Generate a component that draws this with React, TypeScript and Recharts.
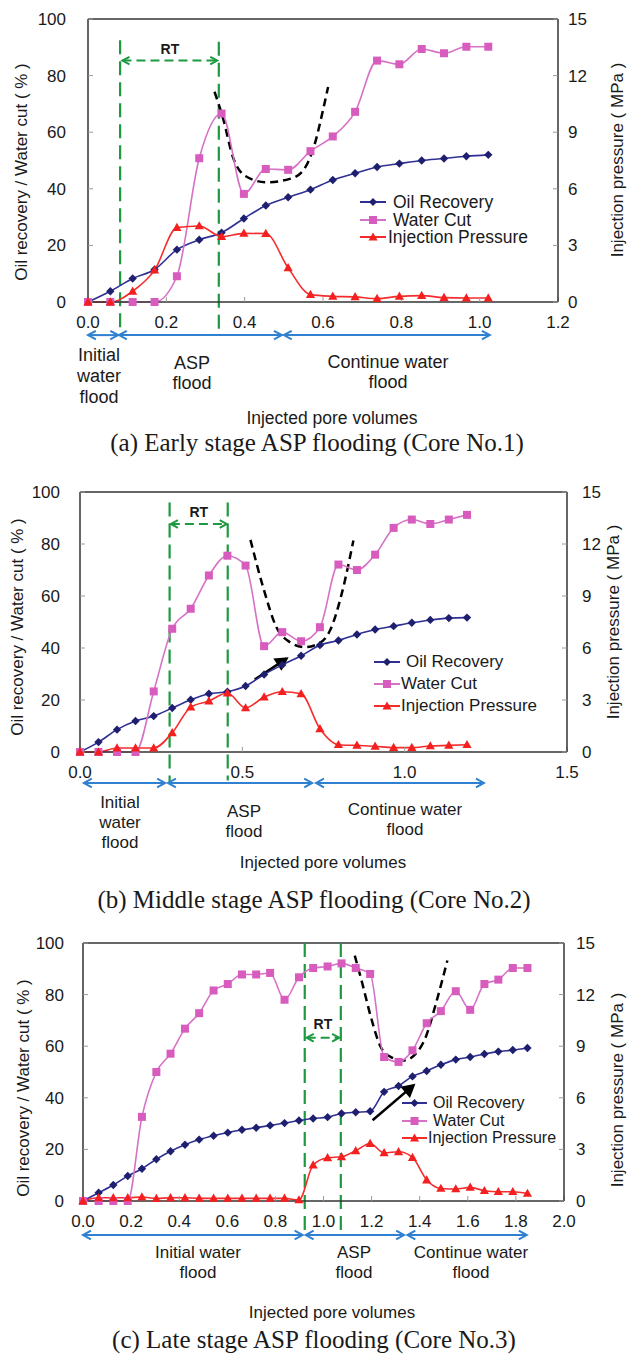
import React from 'react';
import { ComposedChart, Line, XAxis, YAxis, ReferenceLine } from 'recharts';

const SANS = '"Liberation Sans", Arial, sans-serif';
const SERIF = '"Liberation Serif", "Times New Roman", serif';

const OIL_LINE = '#2f2f94';
const OIL_DOT = '#1f1f70';
const WATER_LINE = '#d672c6';
const WATER_DOT = '#d85cbe';
const PRESS_LINE = '#f42c2c';
const PRESS_DOT = '#f41f1f';
const GREEN = '#1d9a40';
const BLUE = '#2f80d0';
const FRAME = '#333';
const TEXT = '#1a1a1a';

// (a) Early stage ASP flooding (Core No.1)
const pvA = [0, 0.057, 0.114, 0.17, 0.227, 0.284, 0.341, 0.398, 0.454, 0.511, 0.568, 0.625, 0.682, 0.738, 0.795, 0.852, 0.909, 0.966, 1.022];
const oilA = [0, 3.8, 8.3, 11.5, 18.5, 22, 24.5, 29.5, 34.1, 37, 39.7, 43.1, 45.5, 47.7, 48.9, 50, 50.7, 51.5, 52];
const waterA = [0, 0, 0, 0, 9.1, 50.8, 66.6, 38.2, 47, 46.7, 53.3, 58.5, 67.2, 85.3, 84, 89.4, 87.9, 90.2, 90.2];
const pressA = [0, 0, 0.57, 1.69, 3.95, 4.03, 3.47, 3.64, 3.63, 1.81, 0.39, 0.3, 0.27, 0.18, 0.3, 0.34, 0.23, 0.21, 0.21];
const trendPvA = [0.323, 0.345, 0.37, 0.4, 0.455, 0.515, 0.549, 0.579, 0.6, 0.613];
const trendA = [74.3, 64.8, 51.2, 44.7, 42.3, 43.5, 46.4, 55.9, 67.8, 76];
const xTicksA = [0, 0.2, 0.4, 0.6, 0.8, 1.0, 1.2];

// (b) Middle stage ASP flooding (Core No.2)
const pvB = [0, 0.057, 0.114, 0.171, 0.227, 0.284, 0.341, 0.397, 0.454, 0.51, 0.567, 0.623, 0.681, 0.739, 0.796, 0.853, 0.909, 0.966, 1.022, 1.079, 1.136, 1.192];
const oilB = [0, 3.8, 8.6, 11.9, 13.8, 16.9, 20.1, 22.4, 23.2, 25.4, 29.8, 33.5, 37, 41.1, 42.9, 45.2, 47.1, 48.4, 49.7, 50.8, 51.5, 51.7];
const waterB = [0, 0, 0, 0, 23.3, 47.4, 55.1, 67.9, 75.5, 71.7, 40.7, 46.1, 42.6, 48, 72.1, 70, 75.9, 86.2, 89.4, 87.7, 89.4, 91.2];
const pressB = [0, 0, 0.23, 0.23, 0.23, 1.11, 2.59, 2.94, 3.4, 2.54, 3.17, 3.48, 3.36, 1.34, 0.42, 0.38, 0.33, 0.25, 0.25, 0.35, 0.38, 0.42];
const trendPvB = [0.525, 0.564, 0.605, 0.646, 0.692, 0.734, 0.77, 0.806, 0.842];
const trendB = [81.6, 63.4, 48, 42.3, 40.3, 41.6, 46.7, 60.8, 81.3];
const xTicksB = [0, 0.5, 1.0, 1.5];

// (c) Late stage ASP flooding (Core No.3)
const pvC = [0, 0.065, 0.126, 0.186, 0.245, 0.305, 0.364, 0.424, 0.483, 0.543, 0.602, 0.661, 0.72, 0.778, 0.838, 0.898, 0.957, 1.017, 1.075, 1.134, 1.194, 1.252, 1.312, 1.37, 1.429, 1.488, 1.55, 1.61, 1.669, 1.727, 1.787, 1.848];
const oilC = [0, 3.2, 6.2, 9.7, 12.5, 16.2, 19.3, 21.8, 23.8, 25.3, 26.5, 27.6, 28.4, 29.3, 30.2, 31.2, 32, 32.5, 33.9, 34.4, 34.8, 42.3, 44.6, 48.3, 50.4, 52.8, 54.8, 55.8, 57, 57.9, 58.5, 59.3];
const waterC = [0, 0, 0, 0, 32.6, 50, 57.1, 66.8, 72.8, 81.6, 84.1, 87.8, 87.8, 88.4, 78, 86.7, 90.3, 90.9, 92.1, 90.3, 88, 55.8, 53.9, 58.4, 68.9, 73.6, 81.3, 74.1, 84.1, 85.8, 90.3, 90.3];
const pressC = [0, 0.19, 0.19, 0.19, 0.23, 0.14, 0.19, 0.19, 0.15, 0.15, 0.15, 0.15, 0.15, 0.15, 0.15, 0.06, 2.09, 2.51, 2.57, 2.92, 3.34, 2.8, 2.86, 2.53, 1.22, 0.73, 0.7, 0.79, 0.6, 0.54, 0.54, 0.44];
const trendPvC = [1.13, 1.162, 1.197, 1.238, 1.28, 1.335, 1.384, 1.425, 1.467, 1.515];
const trendC = [95.1, 84.1, 71.3, 59.7, 55.8, 54.5, 57.1, 63.5, 76.4, 93.2];
const xTicksC = [0, 0.2, 0.4, 0.6, 0.8, 1.0, 1.2, 1.4, 1.6, 1.8, 2.0];

const pctTicks = [0, 20, 40, 60, 80, 100];
const mpaTicks = [0, 3, 6, 9, 12, 15];

const diamondDot = (p: any) => {
  const { cx, cy, index } = p;
  if (cx == null || cy == null) return <g key={index} />;
  const r = 4.2;
  return <path key={index} d={`M${cx},${cy - r}L${cx + r},${cy}L${cx},${cy + r}L${cx - r},${cy}Z`} fill={OIL_DOT} />;
};
const squareDot = (p: any) => {
  const { cx, cy, index } = p;
  if (cx == null || cy == null) return <g key={index} />;
  return <rect key={index} x={cx - 4} y={cy - 4} width={8} height={8} fill={WATER_DOT} />;
};
const triangleDot = (p: any) => {
  const { cx, cy, index } = p;
  if (cx == null || cy == null) return <g key={index} />;
  return <path key={index} d={`M${cx},${cy - 4.8}L${cx + 4.6},${cy + 3.4}L${cx - 4.6},${cy + 3.4}Z`} fill={PRESS_DOT} />;
};

type ArrowOpts = { color: string; width: number; dash?: string; both?: boolean; filled?: boolean; size?: number; label?: string; labelDy?: number };

const arrowShape = (o: ArrowOpts) => (p: any) => {
  const { x1, y1, x2, y2 } = p;
  const a = Math.atan2(y2 - y1, x2 - x1);
  const s = o.size ?? 8;
  const head = (x: number, y: number, ang: number) => {
    const ax = x - s * Math.cos(ang - 0.5);
    const ay = y - s * Math.sin(ang - 0.5);
    const bx = x - s * Math.cos(ang + 0.5);
    const by = y - s * Math.sin(ang + 0.5);
    return `M${ax},${ay}L${x},${y}L${bx},${by}${o.filled ? 'Z' : ''}`;
  };
  return (
    <g>
      <line x1={x1} y1={y1} x2={x2} y2={y2} stroke={o.color} strokeWidth={o.width} strokeDasharray={o.dash} />
      <path d={head(x2, y2, a)} stroke={o.color} strokeWidth={o.width} fill={o.filled ? o.color : 'none'} />
      {o.both && <path d={head(x1, y1, a + Math.PI)} stroke={o.color} strokeWidth={o.width} fill="none" />}
      {o.label && (
        <text x={(x1 + x2) / 2} y={y1 - (o.labelDy ?? 7)} textAnchor="middle" fontSize={14} fontWeight="bold" fill={TEXT} fontFamily={SANS}>
          {o.label}
        </text>
      )}
    </g>
  );
};

const blueArrow = arrowShape({ color: BLUE, width: 2, both: true, size: 9 });
const blackArrow = arrowShape({ color: '#000', width: 2.5, filled: true, size: 11 });

interface PanelProps {
  top: number;
  height: number;
  margin: { top: number; right: number; bottom: number; left: number };
  xMax: number;
  xTicks: number[];
  pv: number[];
  oil: number[];
  water: number[];
  press: number[];
  trendPv: number[];
  trend: number[];
  green: { x: number; y1: number; y2: number }[];
  rt: { x1: number; x2: number; y: number; dy: number };
  blueY: number;
  blue: [number, number][];
  black?: [number, number, number, number];
  leftMargin: number;
  rightMargin: number;
  bottomMargin: number;
}

function Panel(p: PanelProps) {
  const data = p.pv.map((x, i) => ({ pv: x, oil: p.oil[i], water: p.water[i], press: p.press[i] }));
  const trendData = p.trendPv.map((x, i) => ({ pv: x, u: p.trend[i] }));
  return (
    <div style={{ position: 'absolute', left: 0, top: p.top }}>
      <ComposedChart width={628} height={p.height} data={data} margin={p.margin} style={{ fontFamily: SANS }}>
        <XAxis
          dataKey="pv"
          type="number"
          domain={[0, p.xMax]}
          ticks={p.xTicks}
          tickFormatter={(v: number) => v.toFixed(1)}
          height={30}
          axisLine={{ stroke: FRAME, strokeWidth: 1.5 }}
          tickLine={{ stroke: '#999' }}
          tickSize={-5}
          tickMargin={p.bottomMargin}
          tick={{ fontSize: 17, fill: TEXT }}
        />
        <YAxis
          yAxisId="left"
          domain={[0, 100]}
          ticks={pctTicks}
          width={60}
          axisLine={{ stroke: FRAME, strokeWidth: 1.5 }}
          tickLine={{ stroke: '#999' }}
          tickSize={-5}
          tickMargin={p.leftMargin}
          tick={{ fontSize: 17, fill: TEXT }}
        />
        <YAxis
          yAxisId="right"
          orientation="right"
          domain={[0, 15]}
          ticks={mpaTicks}
          width={40}
          axisLine={{ stroke: FRAME, strokeWidth: 1.5 }}
          tickLine={{ stroke: '#999' }}
          tickSize={-5}
          tickMargin={p.rightMargin}
          tick={{ fontSize: 17, fill: TEXT }}
        />
        <ReferenceLine yAxisId="left" y={100} stroke={FRAME} strokeWidth={1.5} />
        {p.green.map((g, i) => (
          <ReferenceLine
            key={'g' + i}
            yAxisId="left"
            segment={[{ x: g.x, y: g.y1 }, { x: g.x, y: g.y2 }]}
            ifOverflow="visible"
            stroke={GREEN}
            strokeWidth={2.2}
            strokeDasharray="14 7"
          />
        ))}
        <ReferenceLine
          yAxisId="left"
          segment={[{ x: p.rt.x1, y: p.rt.y }, { x: p.rt.x2, y: p.rt.y }]}
          ifOverflow="visible"
          shape={arrowShape({ color: GREEN, width: 2, dash: '9 5', both: true, size: 8, label: 'RT', labelDy: p.rt.dy })}
        />
        {p.blue.map((b, i) => (
          <ReferenceLine
            key={'b' + i}
            yAxisId="left"
            segment={[{ x: b[0], y: p.blueY }, { x: b[1], y: p.blueY }]}
            ifOverflow="visible"
            shape={blueArrow}
          />
        ))}
        {p.black && (
          <ReferenceLine
            yAxisId="left"
            segment={[{ x: p.black[0], y: p.black[1] }, { x: p.black[2], y: p.black[3] }]}
            ifOverflow="visible"
            shape={blackArrow}
          />
        )}
        <Line
          yAxisId="left"
          data={trendData}
          dataKey="u"
          type="monotone"
          stroke="#000"
          strokeWidth={2.5}
          strokeDasharray="8 5"
          dot={false}
          isAnimationActive={false}
        />
        <Line yAxisId="left" dataKey="oil" type="monotone" stroke={OIL_LINE} strokeWidth={1.6} dot={diamondDot} isAnimationActive={false} />
        <Line yAxisId="left" dataKey="water" type="monotone" stroke={WATER_LINE} strokeWidth={1.6} dot={squareDot} isAnimationActive={false} />
        <Line yAxisId="right" dataKey="press" type="monotone" stroke={PRESS_LINE} strokeWidth={1.6} dot={triangleDot} isAnimationActive={false} />
      </ComposedChart>
    </div>
  );
}

function Txt(props: { x: number; y: number; text: string; size?: number; rotate?: number; serif?: boolean; lh?: number }) {
  const rot = props.rotate ? ` rotate(${props.rotate}deg)` : '';
  return (
    <div
      style={{
        position: 'absolute',
        left: props.x,
        top: props.y,
        transform: `translate(-50%, -50%)${rot}`,
        whiteSpace: 'pre',
        textAlign: 'center',
        fontFamily: props.serif ? SERIF : SANS,
        fontSize: props.size ?? 17,
        lineHeight: `${props.lh ?? 20}px`,
        color: TEXT,
      }}
    >
      {props.text}
    </div>
  );
}

const legendRows = [
  { name: 'Oil Recovery', color: OIL_LINE, kind: 'diamond' },
  { name: 'Water Cut', color: WATER_LINE, kind: 'square' },
  { name: 'Injection Pressure', color: PRESS_LINE, kind: 'triangle' },
];

function LegendIcon({ kind, color, w }: { kind: string; color: string; w: number }) {
  const c = w / 2;
  return (
    <svg width={w} height={12} style={{ display: 'block' }}>
      <line x1={0} y1={6} x2={w} y2={6} stroke={color} strokeWidth={2} />
      {kind === 'diamond' && <path d={`M${c},2L${c + 4},6L${c},10L${c - 4},6Z`} fill={OIL_DOT} />}
      {kind === 'square' && <rect x={c - 4} y={2} width={8} height={8} fill={WATER_DOT} />}
      {kind === 'triangle' && <path d={`M${c},1.5L${c + 4.5},9.5L${c - 4.5},9.5Z`} fill={PRESS_DOT} />}
    </svg>
  );
}

function LegendBox(props: { iconX: number; iconW: number; textX: number[]; rowsY: number[]; size: number }) {
  return (
    <>
      {legendRows.map((r, i) => (
        <React.Fragment key={r.name}>
          <div style={{ position: 'absolute', left: props.iconX, top: props.rowsY[i] - 6 }}>
            <LegendIcon kind={r.kind} color={r.color} w={props.iconW} />
          </div>
          <div
            style={{
              position: 'absolute',
              left: props.textX[i],
              top: props.rowsY[i],
              transform: 'translateY(-50%)',
              fontFamily: SANS,
              fontSize: props.size,
              lineHeight: '20px',
              whiteSpace: 'pre',
              color: TEXT,
            }}
          >
            {r.name}
          </div>
        </React.Fragment>
      ))}
    </>
  );
}

const LEFT_TITLE = 'Oil recovery / Water cut ( % )';
const RIGHT_TITLE = 'Injection pressure ( MPa )';

export default function App() {
  return (
    <div style={{ position: 'absolute', left: 0, top: 0, width: 628, height: 1356, background: '#fff', overflow: 'hidden' }}>
      {/* (a) */}
      <Panel
        top={0}
        height={350}
        margin={{ top: 19, right: 30, bottom: 18, left: 28 }}
        xMax={1.2}
        xTicks={xTicksA}
        pv={pvA}
        oil={oilA}
        water={waterA}
        press={pressA}
        trendPv={trendPvA}
        trend={trendA}
        green={[
          { x: 0.082, y1: 92.5, y2: -11.7 },
          { x: 0.334, y1: 92, y2: -11.7 },
        ]}
        rt={{ x1: 0.088, x2: 0.33, y: 85.3, dy: 7 }}
        blueY={-11.7}
        blue={[
          [0, 0.077],
          [0.079, 0.495],
          [0.5, 1.026],
        ]}
        leftMargin={27}
        rightMargin={15}
        bottomMargin={19}
      />
      <LegendBox iconX={360} iconW={26} textX={[393, 393, 388]} rowsY={[202, 219.5, 237]} size={17.5} />
      <Txt x={22} y={172} text={LEFT_TITLE} rotate={-90} />
      <Txt x={618} y={160} text={RIGHT_TITLE} rotate={-90} />
      <Txt x={99} y={376} text={'Initial\nwater\nflood'} lh={21} size={18} />
      <Txt x={192} y={373} text={'ASP\nflood'} size={18} />
      <Txt x={388} y={372} text={'Continue water\nflood'} size={18} />
      <Txt x={332} y={418} text="Injected pore volumes" size={17.5} />
      <Txt x={317} y={443} text="(a) Early stage ASP flooding (Core No.1)" serif size={25} />

      {/* (b) */}
      <Panel
        top={460}
        height={340}
        margin={{ top: 32, right: 21, bottom: 18, left: 20 }}
        xMax={1.5}
        xTicks={xTicksB}
        pv={pvB}
        oil={oilB}
        water={waterB}
        press={pressB}
        trendPv={trendPvB}
        trend={trendB}
        green={[
          { x: 0.276, y1: 96, y2: -12.3 },
          { x: 0.455, y1: 96, y2: -11 },
        ]}
        rt={{ x1: 0.28, x2: 0.452, y: 87.7, dy: 7 }}
        blueY={-11.9}
        blue={[
          [0.012, 0.262],
          [0.271, 0.715],
          [0.727, 1.244],
        ]}
        black={[0.538, 27.9, 0.636, 35.9]}
        leftMargin={25}
        rightMargin={20}
        bottomMargin={19}
      />
      <LegendBox iconX={374} iconW={26} textX={[406, 401, 401]} rowsY={[662, 684, 706]} size={17} />
      <Txt x={18} y={627} text={LEFT_TITLE} rotate={-90} />
      <Txt x={614} y={622} text={RIGHT_TITLE} rotate={-90} />
      <Txt x={120} y={823} text={'Initial\nwater\nflood'} />
      <Txt x={244} y={822} text={'ASP\nflood'} />
      <Txt x={405} y={820} text={'Continue water\nflood'} />
      <Txt x={323} y={863} text="Injected pore volumes" />
      <Txt x={314} y={900} text="(b) Middle stage ASP flooding (Core No.2)" serif size={25} />

      {/* (c) */}
      <Panel
        top={920}
        height={340}
        margin={{ top: 23, right: 24, bottom: 29, left: 23 }}
        xMax={2.0}
        xTicks={xTicksC}
        pv={pvC}
        oil={oilC}
        water={waterC}
        press={pressC}
        trendPv={trendPvC}
        trend={trendC}
        green={[
          { x: 0.922, y1: 100, y2: -13.6 },
          { x: 1.072, y1: 100, y2: -13.2 },
        ]}
        rt={{ x1: 0.93, x2: 1.065, y: 63.3, dy: 9 }}
        blueY={-13.2}
        blue={[
          [0, 0.913],
          [0.926, 1.335],
          [1.349, 1.845],
        ]}
        black={[1.204, 31.3, 1.374, 44.8]}
        leftMargin={24}
        rightMargin={17}
        bottomMargin={19}
      />
      <LegendBox iconX={402} iconW={25} textX={[433, 433, 428]} rowsY={[1103, 1120.5, 1138]} size={16} />
      <Txt x={24} y={1088} text={LEFT_TITLE} rotate={-90} />
      <Txt x={618} y={1090} text={RIGHT_TITLE} rotate={-90} />
      <Txt x={198} y={1263} text={'Initial water\nflood'} />
      <Txt x={354} y={1263} text={'ASP\nflood'} />
      <Txt x={471} y={1263} text={'Continue water\nflood'} />
      <Txt x={332} y={1313} text="Injected pore volumes" />
      <Txt x={314} y={1340} text="(c) Late stage ASP flooding (Core No.3)" serif size={25} />
    </div>
  );
}
